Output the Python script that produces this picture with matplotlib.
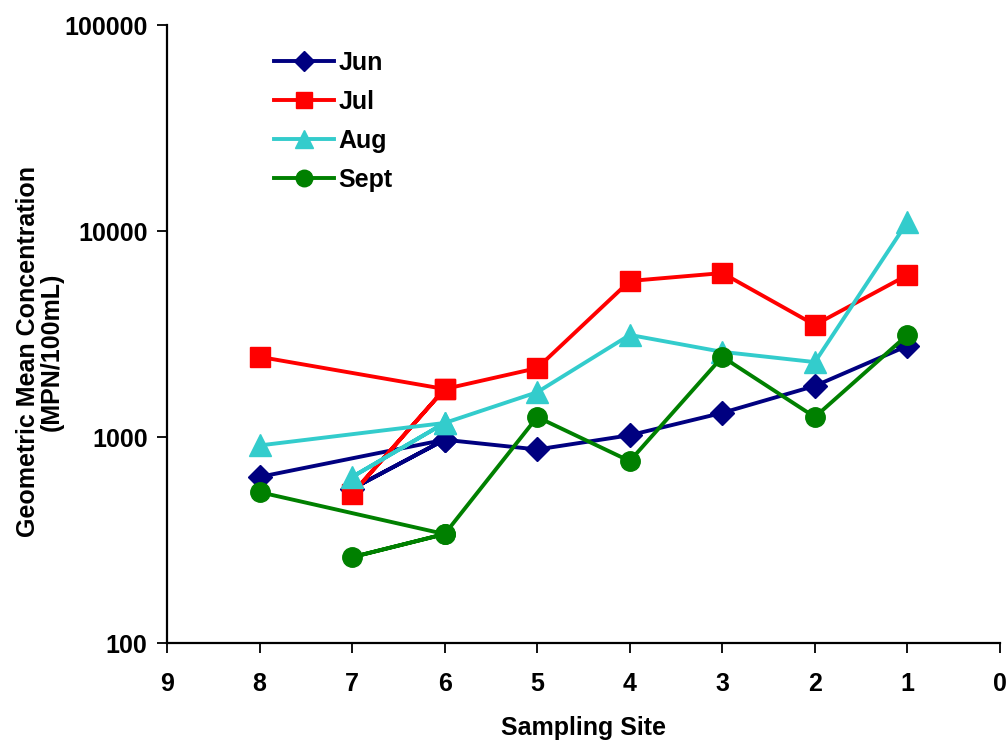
import matplotlib
matplotlib.use("Agg")
import matplotlib.pyplot as plt
from matplotlib.ticker import FixedLocator, NullLocator, FixedFormatter

plt.rcParams['font.family'] = ['Liberation Sans', 'DejaVu Sans']
plt.rcParams['font.weight'] = 'bold'

# Sampling sites (upstream -> downstream) and monthly geometric means
sites = [8, 7, 6, 5, 4, 3, 2, 1]
jun = [640, 560, 970, 870, 1020, 1310, 1770, 2770]
jul = [2450, 530, 1710, 2160, 5720, 6250, 3500, 6110]
aug = [910, 640, 1170, 1650, 3130, 2590, 2310, 11060]
sept = [540, 261, 338, 1250, 764, 2450, 1250, 3130]

# Order in which the points are joined (site 6 is revisited after site 7)
path = [0, 2, 1, 2, 3, 4, 5, 6, 7]

series = [
    ("Jun", jun, "#000080", "D", 12.5),
    ("Jul", jul, "#FF0000", "s", 14),
    ("Aug", aug, "#33CCCC", "^", 16),
    ("Sept", sept, "#008000", "o", 14),
]

y_ticks = [100, 1000, 10000, 100000]
x_ticks = list(range(0, 10))

fig = plt.figure(figsize=(10.06, 7.42), dpi=100)
ax = fig.add_axes([0.166, 0.1334, 0.828, 0.8329])

for name, vals, color, marker, ms in series:
    xs = [sites[i] for i in path]
    ys = [vals[i] for i in path]
    ax.plot(xs, ys, color=color, lw=2.8, marker=marker, markersize=ms,
            markeredgecolor=color, markerfacecolor=color, label=name)

ax.set_yscale('log')
ax.set_ylim(100, 100000)
ax.set_xlim(9, 0)
ax.yaxis.set_major_locator(FixedLocator(y_ticks))
ax.yaxis.set_major_formatter(FixedFormatter([str(v) for v in y_ticks]))
ax.yaxis.set_minor_locator(NullLocator())
ax.xaxis.set_major_locator(FixedLocator(x_ticks))

for side in ('top', 'right'):
    ax.spines[side].set_visible(False)
for side in ('left', 'bottom'):
    ax.spines[side].set_linewidth(1.6)

ax.tick_params(axis='both', direction='out', length=7, width=1.3,
               labelsize=18)
ax.tick_params(axis='x', pad=14)
ax.tick_params(axis='y', pad=7)
for lbl in ax.get_xticklabels() + ax.get_yticklabels():
    lbl.set_fontweight('bold')

ax.set_xlabel("Sampling Site", fontsize=18, fontweight='bold', labelpad=14)
ax.set_ylabel("Geometric Mean Concentration\n(MPN/100mL)", fontsize=18,
              fontweight='bold', linespacing=1.0)
ax.yaxis.set_label_coords(-0.124, 0.471)

leg = ax.legend(loc='upper left', bbox_to_anchor=(0.101, 0.994), frameon=False,
                fontsize=18, handlelength=2.4, handletextpad=0.2,
                labelspacing=0.6, markerscale=0.85)
for t in leg.get_texts():
    t.set_fontweight('bold')

fig.savefig("out.png", dpi=100)
